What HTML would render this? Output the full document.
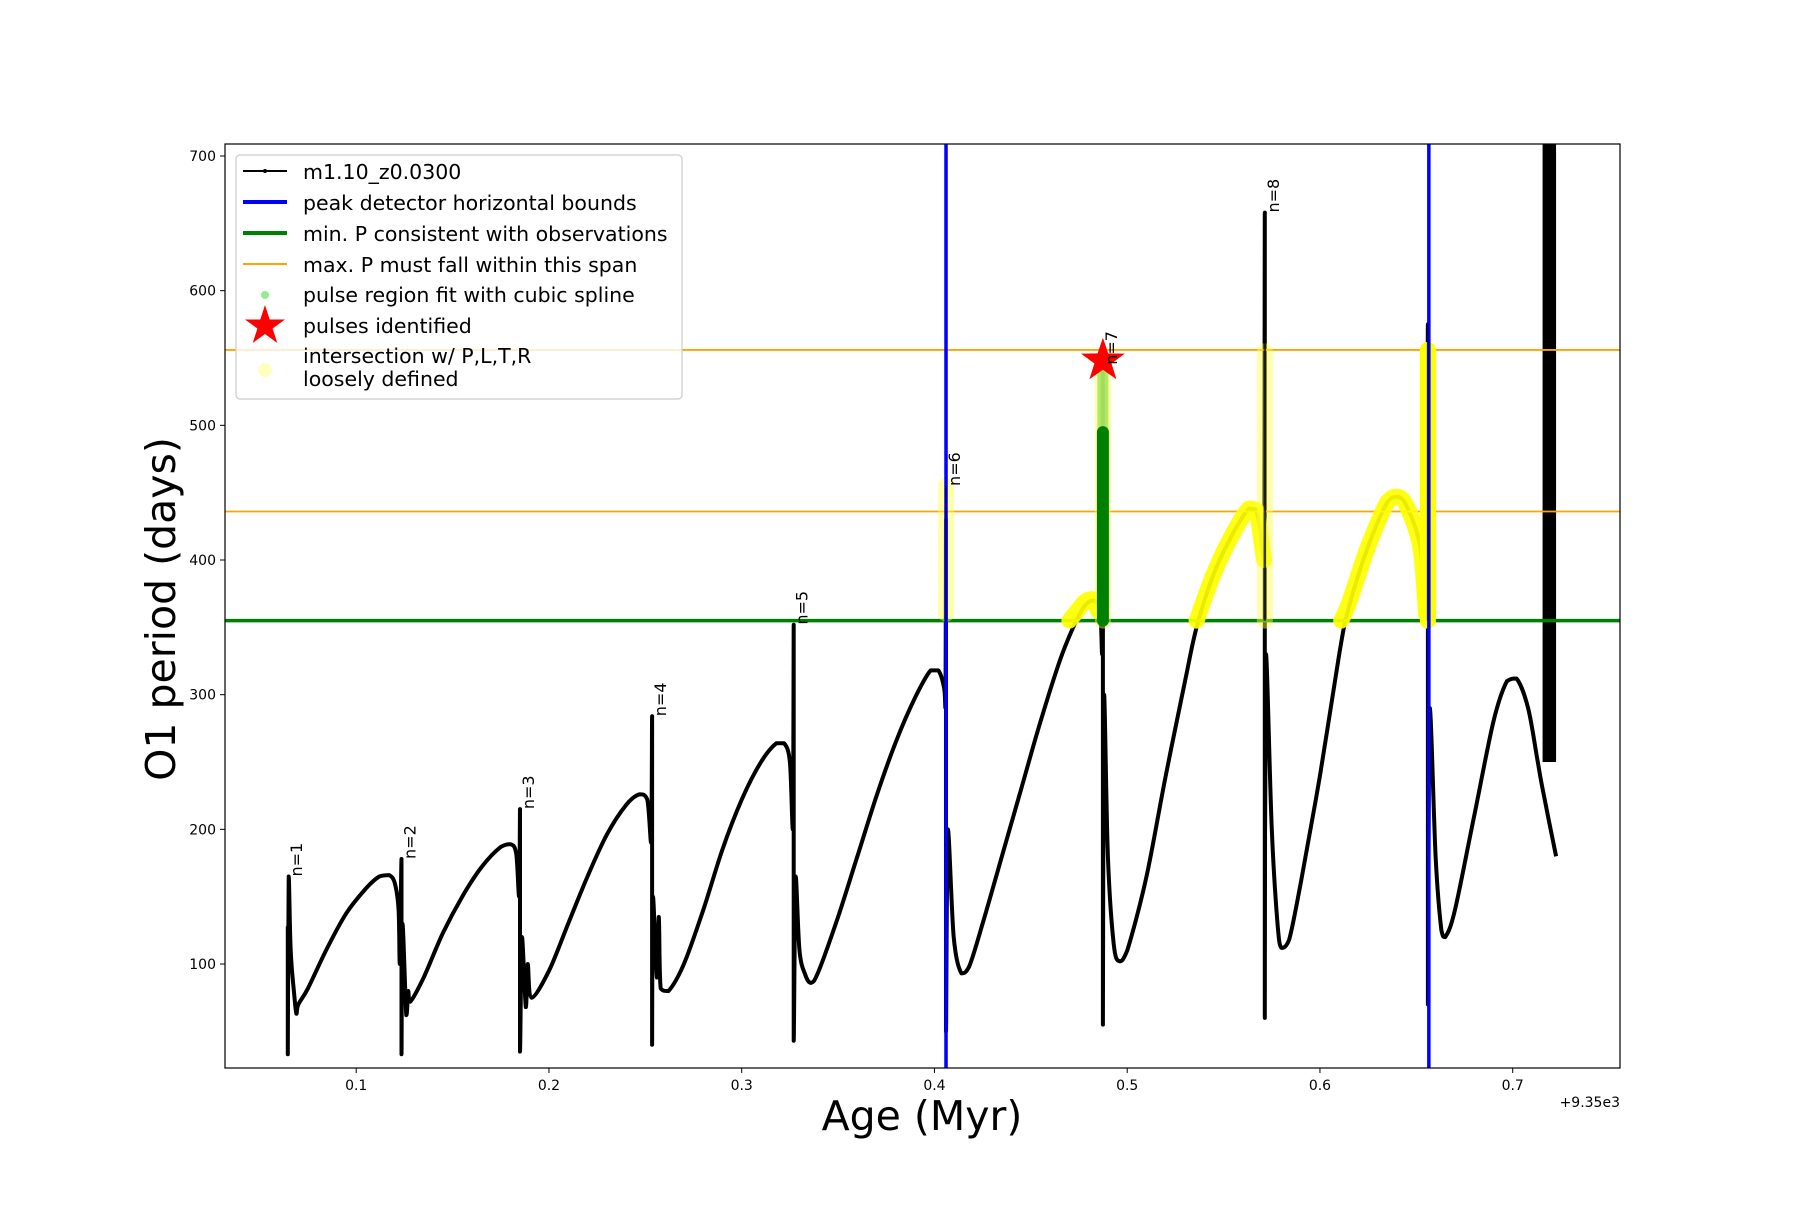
<!DOCTYPE html>
<html><head><meta charset="utf-8"><style>
body{margin:0;background:#fff}
svg text{font-family:"DejaVu Sans","Liberation Sans",sans-serif}
</style></head><body>
<svg id="chart" width="1800" height="1200" viewBox="0 0 1800 1200" xmlns="http://www.w3.org/2000/svg">
<rect width="1800" height="1200" fill="#fff"/>
<defs><clipPath id="plotclip"><rect x="225" y="144" width="1395" height="924"/></clipPath></defs>
<g id="plot" clip-path="url(#plotclip)"></g>
<rect x="225" y="144" width="1395" height="924" fill="none" stroke="#000" stroke-width="1.2"/>
<g id="ticks"></g>
<text x="922" y="1130" font-size="41" text-anchor="middle">Age (Myr)</text>
<text x="0" y="0" font-size="41" text-anchor="middle" transform="translate(175,609) rotate(-90)">O1 period (days)</text>
<text x="1620" y="1107" font-size="14" text-anchor="end">+9.35e3</text>
<g id="legend">
<rect x="236" y="155" width="446" height="244" rx="4" fill="#fff" fill-opacity="0.8" stroke="#ccc" stroke-width="1.2"/>
<line x1="243" y1="171" x2="287" y2="171" stroke="#000" stroke-width="2"/><circle cx="265" cy="171" r="2" fill="#000"/>
<text x="303" y="179" font-size="20.5">m1.10_z0.0300</text>
<line x1="243" y1="202" x2="287" y2="202" stroke="#0000ff" stroke-width="4"/>
<text x="303" y="210" font-size="20.5">peak detector horizontal bounds</text>
<line x1="243" y1="233" x2="287" y2="233" stroke="#008000" stroke-width="4"/>
<text x="303" y="241" font-size="20.5">min. P consistent with observations</text>
<line x1="243" y1="264" x2="287" y2="264" stroke="#ffa500" stroke-width="2"/>
<text x="303" y="272" font-size="20.5">max. P must fall within this span</text>
<circle cx="265" cy="295" r="4" fill="#90ee90"/>
<text x="303" y="302" font-size="20.5">pulse region fit with cubic spline</text>
<polygon points="265,305 269.7,319.5 285,319.5 272.6,328.5 277.3,343 265,334 252.7,343 257.4,328.5 245,319.5 260.3,319.5" fill="#ff0000"/>
<text x="303" y="333" font-size="20.5">pulses identified</text>
<circle cx="265" cy="370" r="7" fill="#ffff80" fill-opacity="0.5"/>
<text x="303" y="363" font-size="20.5">intersection w/ P,L,T,R</text>
<text x="303" y="386" font-size="20.5">loosely defined</text>
</g>
</svg>
<script>
const xTicks=[0.1,0.2,0.3,0.4,0.5,0.6,0.7];
const yTicks=[100,200,300,400,500,600,700];
const minP=[355];
const maxP=[436,556];
const bounds=[0.406,0.6565];
const pulseAges=[0.0645,0.1235,0.185,0.2535,0.327,0.406,0.4874,0.5714,0.656];
const pulseTops=[165,178,215,284,352,455,545,658,575];
const pulseLabels=["n=1","n=2","n=3","n=4","n=5","n=6","n=7","n=8",""];
const starAge=[0.4874];
const starP=[548];
const seriesAge=[0.0645,0.0645,0.0650,0.0660,0.068,0.069,0.070,0.075,0.085,0.095,0.105,0.112,0.117,0.120,0.122,0.1226,
0.1235,0.1235,0.124,0.126,0.127,0.128,0.135,0.145,0.155,0.165,0.175,0.180,0.183,0.1845,
0.185,0.185,0.186,0.188,0.189,0.191,0.200,0.210,0.220,0.230,0.240,0.247,0.251,0.253,
0.2535,0.2535,0.254,0.256,0.257,0.258,0.262,0.270,0.280,0.290,0.300,0.310,0.318,0.322,0.325,0.3265,
0.327,0.327,0.328,0.330,0.333,0.336,0.340,0.350,0.360,0.370,0.380,0.390,0.398,0.402,0.405,0.4057,
0.406,0.406,0.407,0.410,0.414,0.418,0.425,0.435,0.445,0.455,0.465,0.472,0.478,0.483,0.486,0.487,
0.4874,0.4874,0.488,0.490,0.493,0.496,0.500,0.510,0.520,0.530,0.536,0.545,0.555,0.563,0.567,0.570,0.571,
0.5714,0.5714,0.572,0.575,0.578,0.580,0.584,0.590,0.600,0.610,0.615,0.625,0.635,0.640,0.645,0.652,0.655,
0.656,0.656,0.657,0.660,0.663,0.665,0.670,0.680,0.690,0.697,0.702,0.708,0.713,0.7155,0.7225];
const seriesP=[128,33,165,110,75,63,70,82,112,138,156,165,166,160,140,100,
178,33,130,62,80,72,90,123,150,172,187,189,182,150,
215,35,120,68,100,75,95,130,165,196,218,226,222,190,
284,40,150,90,135,82,80,100,140,185,222,250,264,264,250,200,
352,43,165,110,92,86,95,135,180,225,265,298,318,318,305,290,
430,50,200,120,93,98,130,180,230,280,325,350,366,370,360,330,
545,55,300,180,115,102,110,165,240,310,350,390,420,438,437,410,400,
658,60,330,200,130,112,118,160,240,330,365,410,443,447,440,410,360,
575,70,290,180,125,120,140,210,280,310,312,290,250,230,180];
const blockAge=[0.7155,0.7225];
const blockP=[250,712];
const yellowArcAge=[[0.470,0.474,0.478,0.482,0.485],[0.536,0.545,0.555,0.563,0.567,0.570,0.571],[0.611,0.615,0.625,0.635,0.640,0.645,0.652,0.655]];
const yellowArcP=[[355,362,369,371,362],[355,390,420,438,437,410,400],[355,368,410,443,447,440,410,360]];
const lightColAge=[0.406,0.4874,0.5714];
const lightColLo=[360,355,355];
const lightColHi=[455,548,555];
const brightColAge=[0.656];
const brightColLo=[355];
const brightColHi=[556];
const greenColAge=[0.4874];
const greenColLo=[355];
const greenColHi=[495];

const NS="http://www.w3.org/2000/svg";
const X=v=>356.2+(v-0.1)*1927.5;
const Y=v=>156+(700-v)*1.3467;
const plot=document.getElementById('plot');
const ticks=document.getElementById('ticks');
function mk(tag,attrs,parent){const e=document.createElementNS(NS,tag);for(const k in attrs)e.setAttribute(k,attrs[k]);parent.appendChild(e);return e;}
// smooth path (Catmull-Rom with clamped controls to avoid overshoot)
function smooth(ax,py){
  const P=ax.map((a,i)=>[X(a),Y(py[i])]);
  let d='M'+P[0][0].toFixed(1)+','+P[0][1].toFixed(1);
  const clamp=(v,a,b)=>Math.min(Math.max(v,Math.min(a,b)),Math.max(a,b));
  for(let i=0;i<P.length-1;i++){
    const p0=P[Math.max(0,i-1)],p1=P[i],p2=P[i+1],p3=P[Math.min(P.length-1,i+2)];
    let c1x=p1[0]+(p2[0]-p0[0])/6,c1y=p1[1]+(p2[1]-p0[1])/6;
    let c2x=p2[0]-(p3[0]-p1[0])/6,c2y=p2[1]-(p3[1]-p1[1])/6;
    c1x=clamp(c1x,p1[0],p2[0]);c2x=clamp(c2x,p1[0],p2[0]);
    c1y=clamp(c1y,p1[1],p2[1]);c2y=clamp(c2y,p1[1],p2[1]);
    d+='C'+c1x.toFixed(1)+','+c1y.toFixed(1)+' '+c2x.toFixed(1)+','+c2y.toFixed(1)+' '+p2[0].toFixed(1)+','+p2[1].toFixed(1);
  }
  return d;
}

xTicks.forEach(t=>{
  const l=mk('line',{x1:X(t),x2:X(t),y1:1068,y2:1073,stroke:'#000','stroke-width':1},ticks);
  
  
  const tx=mk('text',{x:X(t),y:1090,'font-size':14,'text-anchor':'middle'},ticks);
  tx.textContent=String(t);
  
  
});
yTicks.forEach(t=>{
  const l=mk('line',{x1:220,x2:225,y1:Y(t),y2:Y(t),stroke:'#000','stroke-width':1},ticks);
  
  
  const tx=mk('text',{x:216,y:Y(t)+5,'font-size':14,'text-anchor':'end'},ticks);
  tx.textContent=String(t);
  
  
});

const ser=mk('path',{d:smooth(seriesAge,seriesP),fill:'none',stroke:'#000','stroke-width':4,'stroke-linejoin':'round'},plot);


const blk=mk('rect',{x:X(blockAge[0]),y:Y(blockP[1]),width:X(blockAge[1])-X(blockAge[0]),height:Y(blockP[0])-Y(blockP[1]),fill:'#000'},plot);



minP.forEach(v=>{const l=mk('line',{x1:225,x2:1620,y1:Y(v),y2:Y(v),stroke:'#008000','stroke-width':3.5},plot);
  
  });
maxP.forEach(v=>{const l=mk('line',{x1:225,x2:1620,y1:Y(v),y2:Y(v),stroke:'#ffa500','stroke-width':1.8},plot);
  
  });

yellowArcAge.forEach((arr,k)=>{
  const e=mk('path',{d:smooth(arr,yellowArcP[k]),fill:'none',stroke:'#ffff00','stroke-width':16,'stroke-linecap':'round','stroke-linejoin':'round','stroke-opacity':0.92},plot);
  
  });
lightColAge.forEach((a,i)=>{const e=mk('line',{x1:X(a),x2:X(a),y1:Y(lightColLo[i]),y2:Y(lightColHi[i]),stroke:'#ffff44','stroke-width':16,'stroke-linecap':'round','stroke-opacity':0.45},plot);
  
  });
brightColAge.forEach((a,i)=>{const e=mk('line',{x1:X(a),x2:X(a),y1:Y(brightColLo[i]),y2:Y(brightColHi[i]),stroke:'#ffff00','stroke-width':16,'stroke-linecap':'round'},plot);
  
  });
greenColAge.forEach((a,i)=>{
  const lg=mk('line',{x1:X(a),x2:X(a),y1:Y(greenColHi[i]),y2:Y(starP[0]),stroke:'#a8e860','stroke-width':11,'stroke-linecap':'round','stroke-opacity':0.9},plot);
  
  
  const e=mk('line',{x1:X(a),x2:X(a),y1:Y(greenColLo[i]),y2:Y(greenColHi[i]),stroke:'#008000','stroke-width':12,'stroke-linecap':'round'},plot);
  
  });

bounds.forEach(v=>{const l=mk('line',{x1:X(v),x2:X(v),y1:144,y2:1068,stroke:'#0000ff','stroke-width':3.5},plot);
  
  });
[5,7,8].forEach(i=>{const l=mk('line',{x1:X(pulseAges[i]),x2:X(pulseAges[i]),y1:Y(pulseTops[i]),y2:Y(355),stroke:'#000','stroke-width':2.5,'stroke-opacity':i==7?0.75:0.35},plot);
  
  });

starAge.forEach((a,i)=>{const cx=X(a),cy=Y(starP[i]),R=23,r=9;let pts=[];
  for(let k=0;k<10;k++){const ang=-Math.PI/2+k*Math.PI/5,rr=k%2?r:R;pts.push((cx+rr*Math.cos(ang)).toFixed(1)+','+(cy+rr*Math.sin(ang)).toFixed(1));}
  const s=mk('polygon',{points:pts.join(' '),fill:'#ff0000'},plot);
  
  });

pulseAges.forEach((a,i)=>{if(!pulseLabels[i])return;
  const x=X(a)+14,y=Y(pulseTops[i]);
  const t=mk('text',{x:0,y:0,'font-size':16,transform:`translate(${x},${y}) rotate(-90)`},plot);
  t.textContent=pulseLabels[i];
  
  });
</script>
</body></html>
